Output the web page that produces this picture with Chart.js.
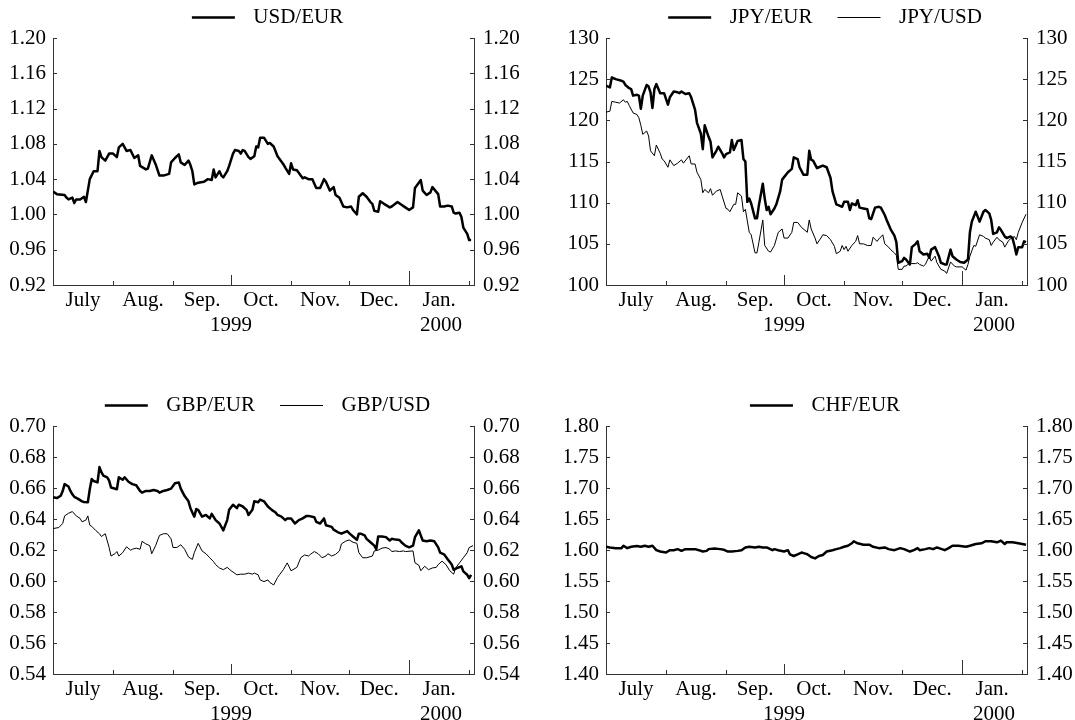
<!DOCTYPE html>
<html>
<head>
<meta charset="utf-8">
<script src="https://cdn.jsdelivr.net/npm/chart.js@4.4.0/dist/chart.umd.min.js"></script>
<style>
  html, body { margin: 0; padding: 0; background: #fff; overflow: hidden; }
  #wrap { position: relative; width: 1075px; height: 720px; overflow: hidden; }
  canvas { position: absolute; }
</style>
</head>
<body>
<div id="wrap">
  <canvas id="c1" width="537" height="345" style="left:-6px;top:-8px"></canvas>
  <canvas id="c2" width="510" height="345" style="left:565px;top:-8px"></canvas>
  <canvas id="c3" width="537" height="346" style="left:-6px;top:380px"></canvas>
  <canvas id="c4" width="510" height="346" style="left:565px;top:380px"></canvas>
</div>
<script>
/* ========= DATA (x = days since 1 July 1999) ========= */
const monthStarts = [0, 31, 62, 92, 123, 153, 184, 215];
const monthMid    = [15.5, 46.5, 77, 107.5, 138, 168.5, 199.5];
const monthLabels = ["July", "Aug.", "Sep.", "Oct.", "Nov.", "Dec.", "Jan."];
const yearPos     = [92, 200.5];
const yearLabels  = ["1999", "2000"];

const usdTicks = [0.92, 0.96, 1.00, 1.04, 1.08, 1.12, 1.16, 1.20];
const jpyTicks = [100, 105, 110, 115, 120, 125, 130];
const gbpTicks = [0.54, 0.56, 0.58, 0.60, 0.62, 0.64, 0.66, 0.68, 0.70];
const chfTicks = [1.40, 1.45, 1.50, 1.55, 1.60, 1.65, 1.70, 1.75, 1.80];

const usdEur = [[0,1.026],[2,1.023],[6,1.022],[7,1.019],[8,1.017],[10,1.019],[11,1.013],[12,1.017],[14,1.017],[16,1.020],[17,1.014],[19,1.040],[21,1.049],[23,1.049],[24,1.072],[25,1.065],[27,1.061],[29,1.069],[31,1.069],[33,1.065],[34,1.076],[36,1.080],[38,1.072],[40,1.073],[42,1.064],[44,1.067],[45,1.055],[48,1.051],[49,1.052],[51,1.067],[53,1.057],[55,1.044],[57,1.044],[60,1.046],[61,1.059],[63,1.064],[65,1.068],[66,1.059],[68,1.056],[70,1.061],[71,1.056],[72,1.049],[73,1.034],[75,1.036],[78,1.037],[80,1.040],[82,1.039],[83,1.051],[84,1.042],[86,1.049],[87,1.044],[88,1.042],[90,1.049],[91,1.055],[93,1.069],[94,1.073],[96,1.072],[97,1.069],[98,1.073],[99,1.072],[101,1.065],[102,1.063],[104,1.066],[105,1.077],[106,1.076],[107,1.087],[109,1.087],[111,1.080],[112,1.081],[114,1.077],[116,1.066],[119,1.057],[120,1.053],[122,1.046],[123,1.058],[124,1.051],[126,1.050],[129,1.041],[130,1.042],[132,1.040],[134,1.040],[136,1.030],[138,1.030],[140,1.040],[141,1.037],[143,1.027],[145,1.031],[146,1.022],[148,1.019],[150,1.009],[152,1.008],[154,1.009],[155,1.005],[157,1.000],[158,1.020],[160,1.024],[162,1.020],[164,1.014],[165,1.012],[166,1.004],[168,1.003],[169,1.015],[171,1.012],[174,1.008],[175,1.009],[178,1.014],[180,1.011],[182,1.008],[184,1.005],[186,1.008],[187,1.030],[189,1.036],[190,1.039],[191,1.027],[193,1.022],[195,1.025],[196,1.031],[199,1.023],[200,1.009],[202,1.009],[204,1.010],[206,1.009],[207,1.002],[208,1.001],[210,1.002],[211,0.997],[212,0.985],[214,0.978],[215,0.971],[216,0.971]];

const jpyEur = [[0,124.2],[2,124.0],[3,125.2],[5,125.0],[8,124.8],[9,124.7],[10,124.3],[12,123.9],[13,123.8],[14,123.0],[16,123.1],[17,123.0],[18,121.4],[19,123.0],[21,124.3],[22,124.1],[23,123.4],[24,121.5],[25,123.8],[26,124.4],[28,123.3],[30,123.3],[32,121.9],[33,122.8],[35,123.5],[37,123.4],[38,123.3],[39,123.5],[41,123.2],[43,123.3],[44,122.8],[46,121.3],[47,119.7],[49,118.4],[50,116.5],[51,119.4],[53,118.0],[54,117.4],[55,115.5],[57,116.3],[58,116.8],[60,116.0],[61,115.5],[62,115.9],[64,116.1],[65,117.6],[66,116.4],[68,117.5],[70,117.6],[71,115.3],[72,115.0],[73,110.1],[74,110.5],[75,109.9],[77,108.1],[78,108.1],[79,109.7],[81,112.3],[82,110.5],[83,109.1],[84,109.5],[85,108.6],[87,109.3],[88,109.8],[90,111.4],[91,112.8],[92,113.1],[94,113.7],[96,114.1],[97,115.5],[99,115.3],[100,114.3],[102,113.4],[104,113.4],[105,116.3],[106,115.2],[107,115.1],[109,114.2],[110,114.3],[112,114.5],[114,114.3],[116,113.0],[117,111.4],[119,109.8],[120,109.7],[122,109.5],[123,110.1],[125,110.1],[126,109.1],[127,109.9],[129,109.7],[130,110.3],[131,109.4],[133,109.3],[135,109.2],[136,108.1],[137,108.0],[139,109.4],[141,109.5],[142,109.4],[144,108.5],[145,107.9],[147,106.8],[149,106.0],[150,105.2],[151,102.7],[153,102.9],[154,103.3],[155,103.1],[157,102.5],[158,104.6],[160,105.0],[161,105.3],[162,104.1],[164,103.7],[166,103.8],[167,103.3],[168,104.3],[170,104.6],[172,103.5],[173,102.7],[175,102.5],[176,102.5],[178,104.3],[179,103.5],[181,103.1],[183,102.8],[185,102.7],[187,103.1],[188,106.4],[189,107.7],[191,108.9],[192,108.3],[193,107.7],[195,108.9],[196,109.1],[198,108.7],[199,107.9],[200,106.2],[202,106.4],[203,107.0],[204,106.7],[206,105.9],[207,105.7],[209,105.9],[210,105.7],[211,104.8],[212,103.7],[213,104.6],[215,104.6],[216,105.3],[217,105.2]];

const jpyUsd = [[0,121.0],[2,121.1],[3,122.3],[5,122.2],[7,122.1],[9,122.5],[10,122.2],[11,122.3],[12,121.8],[14,120.9],[16,120.7],[17,120.3],[18,119.4],[19,118.3],[21,118.7],[22,118.1],[23,116.3],[25,115.7],[26,117.0],[28,116.0],[29,115.3],[30,115.1],[32,114.3],[33,115.2],[35,114.5],[37,114.8],[39,115.2],[40,114.8],[43,115.7],[44,114.7],[46,114.7],[47,113.7],[49,112.8],[50,111.2],[51,111.6],[53,111.2],[54,111.7],[55,110.9],[57,111.4],[59,111.6],[60,110.8],[62,109.3],[63,109.2],[64,108.9],[66,109.8],[67,109.8],[68,111.2],[70,110.8],[71,108.9],[72,109.2],[74,106.4],[75,106.1],[77,103.9],[78,103.9],[79,105.2],[81,107.9],[82,104.8],[84,104.1],[85,104.0],[87,104.8],[89,106.4],[91,106.8],[92,105.7],[94,105.7],[96,106.4],[97,107.6],[99,107.6],[101,107.0],[104,106.4],[105,107.9],[106,106.8],[108,105.7],[109,105.0],[111,105.7],[112,106.1],[114,106.0],[116,105.5],[118,104.7],[119,103.8],[121,104.1],[122,104.8],[123,104.3],[124,104.7],[125,104.1],[127,104.8],[129,105.3],[130,106.0],[131,105.0],[133,105.0],[135,104.8],[137,104.8],[138,105.8],[140,105.3],[141,105.6],[143,106.1],[144,105.0],[146,104.6],[147,104.3],[149,103.9],[150,103.6],[151,101.9],[153,101.9],[154,102.3],[155,102.3],[157,102.7],[158,102.6],[160,102.6],[161,102.7],[162,102.5],[164,102.3],[165,102.5],[167,103.5],[168,102.9],[170,103.5],[171,102.7],[173,101.9],[175,101.7],[176,101.4],[178,102.8],[180,102.3],[181,102.2],[184,102.2],[186,101.8],[187,102.5],[188,103.5],[190,104.8],[191,104.7],[193,106.1],[195,105.9],[196,105.7],[198,105.5],[199,104.8],[200,105.2],[202,105.8],[203,105.5],[205,105.2],[206,104.6],[208,105.4],[209,105.6],[211,105.9],[212,105.5],[213,106.4],[215,107.6],[217,108.6]];

const gbpEur = [[0,0.6540],[2,0.6535],[4,0.6550],[5,0.6580],[6,0.6625],[8,0.6610],[9,0.6581],[10,0.6559],[11,0.6543],[13,0.6530],[15,0.6514],[16,0.6510],[18,0.6508],[19,0.6592],[20,0.6658],[21,0.6645],[23,0.6636],[24,0.6735],[25,0.6702],[26,0.6680],[28,0.6669],[29,0.6647],[30,0.6603],[33,0.6592],[34,0.6669],[36,0.6653],[37,0.6669],[39,0.6640],[41,0.6625],[43,0.6618],[45,0.6581],[46,0.6570],[48,0.6581],[50,0.6581],[52,0.6587],[54,0.6581],[55,0.6570],[57,0.6581],[59,0.6587],[61,0.6596],[63,0.6631],[65,0.6636],[66,0.6596],[68,0.6548],[70,0.6514],[71,0.6470],[73,0.6415],[74,0.6464],[75,0.6459],[77,0.6415],[79,0.6426],[81,0.6404],[82,0.6433],[84,0.6393],[86,0.6371],[88,0.6327],[90,0.6393],[91,0.6459],[93,0.6492],[95,0.6470],[96,0.6492],[98,0.6481],[100,0.6459],[101,0.6426],[103,0.6459],[104,0.6514],[106,0.6508],[107,0.6525],[109,0.6514],[111,0.6481],[113,0.6459],[115,0.6442],[116,0.6426],[118,0.6415],[120,0.6393],[121,0.6404],[123,0.6404],[125,0.6371],[127,0.6393],[129,0.6404],[131,0.6420],[132,0.6420],[135,0.6411],[136,0.6382],[138,0.6371],[140,0.6404],[141,0.6360],[144,0.6349],[145,0.6331],[147,0.6316],[149,0.6305],[152,0.6322],[153,0.6309],[155,0.6287],[157,0.6265],[158,0.6305],[159,0.6305],[161,0.6294],[162,0.6272],[164,0.6250],[166,0.6228],[167,0.6205],[168,0.6287],[170,0.6287],[172,0.6283],[174,0.6261],[175,0.6272],[177,0.6267],[179,0.6265],[180,0.6250],[182,0.6228],[184,0.6217],[186,0.6228],[187,0.6283],[189,0.6327],[190,0.6294],[191,0.6261],[193,0.6256],[195,0.6261],[197,0.6256],[199,0.6217],[200,0.6183],[202,0.6172],[204,0.6139],[206,0.6106],[207,0.6073],[209,0.6084],[211,0.6095],[212,0.6062],[214,0.6040],[215,0.6018],[216,0.6040]];

const gbpUsd = [[0,0.6338],[3,0.6345],[5,0.6371],[6,0.6420],[8,0.6437],[10,0.6448],[12,0.6420],[14,0.6404],[15,0.6382],[17,0.6393],[18,0.6420],[19,0.6360],[20,0.6353],[22,0.6327],[24,0.6305],[25,0.6287],[27,0.6305],[29,0.6216],[30,0.6161],[32,0.6176],[33,0.6190],[34,0.6161],[36,0.6183],[38,0.6221],[40,0.6199],[41,0.6205],[43,0.6212],[45,0.6205],[46,0.6256],[48,0.6239],[50,0.6228],[51,0.6176],[53,0.6228],[55,0.6294],[57,0.6305],[59,0.6305],[61,0.6272],[62,0.6216],[64,0.6216],[66,0.6234],[68,0.6205],[70,0.6155],[72,0.6139],[73,0.6183],[75,0.6243],[77,0.6194],[79,0.6176],[81,0.6150],[83,0.6124],[84,0.6106],[86,0.6084],[88,0.6073],[90,0.6088],[92,0.6066],[93,0.6058],[95,0.6040],[97,0.6044],[99,0.6044],[101,0.6051],[103,0.6044],[104,0.6051],[106,0.6040],[107,0.6007],[109,0.5996],[111,0.6007],[112,0.5991],[114,0.5974],[116,0.6022],[117,0.6040],[119,0.6073],[121,0.6117],[123,0.6066],[124,0.6073],[126,0.6088],[128,0.6150],[130,0.6168],[132,0.6161],[133,0.6172],[135,0.6190],[137,0.6176],[139,0.6150],[141,0.6161],[142,0.6176],[144,0.6161],[146,0.6172],[148,0.6194],[149,0.6239],[151,0.6256],[153,0.6265],[155,0.6250],[157,0.6243],[158,0.6183],[160,0.6150],[162,0.6150],[165,0.6161],[166,0.6194],[168,0.6199],[170,0.6212],[172,0.6216],[174,0.6205],[175,0.6190],[177,0.6194],[179,0.6190],[181,0.6194],[182,0.6190],[186,0.6194],[187,0.6117],[189,0.6102],[190,0.6066],[192,0.6095],[194,0.6073],[196,0.6084],[198,0.6088],[199,0.6106],[201,0.6128],[203,0.6106],[205,0.6066],[207,0.6044],[208,0.6084],[210,0.6117],[212,0.6150],[214,0.6183],[215,0.6216],[217,0.6228]];

const chfEur = [[0,1.6052],[2,1.6041],[5,1.6030],[8,1.6030],[9,1.6069],[11,1.6030],[13,1.6052],[16,1.6063],[18,1.6052],[20,1.6069],[22,1.6052],[24,1.6069],[26,1.5997],[28,1.5975],[31,1.5959],[33,1.5997],[35,1.5997],[37,1.6014],[39,1.5986],[41,1.6014],[43,1.6014],[46,1.6014],[48,1.5997],[50,1.5975],[52,1.5986],[53,1.6014],[56,1.6025],[59,1.6014],[61,1.6003],[63,1.5975],[65,1.5975],[68,1.5986],[70,1.5997],[72,1.6041],[74,1.6052],[77,1.6041],[79,1.6052],[81,1.6041],[83,1.6041],[86,1.5997],[87,1.6014],[89,1.5997],[92,1.5975],[94,1.5997],[95,1.5931],[97,1.5903],[99,1.5931],[101,1.5959],[103,1.5942],[104,1.5931],[106,1.5887],[108,1.5865],[110,1.5903],[112,1.5920],[114,1.5975],[117,1.5997],[119,1.6014],[121,1.6030],[123,1.6052],[125,1.6069],[127,1.6108],[128,1.6141],[130,1.6108],[133,1.6085],[136,1.6085],[138,1.6052],[141,1.6030],[144,1.6041],[146,1.6014],[149,1.5997],[152,1.6030],[154,1.6014],[157,1.5975],[159,1.5997],[161,1.6030],[162,1.5997],[165,1.6014],[167,1.6030],[169,1.6014],[171,1.6041],[172,1.6030],[175,1.5997],[177,1.6030],[179,1.6069],[182,1.6069],[186,1.6052],[188,1.6069],[191,1.6097],[194,1.6108],[196,1.6141],[199,1.6141],[202,1.6124],[204,1.6152],[206,1.6097],[207,1.6124],[210,1.6124],[213,1.6108],[215,1.6097],[217,1.6085]];

/* ========= STYLE ========= */
const axisColor = "#333";
const xMax = 217.5;
Chart.defaults.font.family = '"Liberation Serif", "Times New Roman", serif';
Chart.defaults.font.size = 21;
Chart.defaults.color = "#000";

// legend key: a 43px line with some air before it and after it
const keyWidth = 61;
function legendKey(width) {
  const c = document.createElement("canvas");
  c.width = keyWidth;
  c.height = 3;
  const g = c.getContext("2d");
  g.fillStyle = "#000";
  if (width < 2) g.fillRect(10, 1, 43, 1);
  else g.fillRect(10, 0.25, 43, 2.5);
  return c;
}

// ticks point into the plot, as in the printed chart
const innerTicks = {
  id: "innerTicks",
  afterDraw(chart) {
    const { ctx, chartArea: a, scales } = chart;
    ctx.save();
    ctx.strokeStyle = axisColor;
    ctx.lineWidth = 1;
    ctx.beginPath();
    ["y", "y2"].forEach(id => {
      const s = scales[id];
      const left = s.position === "left";
      const px = left ? a.left : a.right;
      s.ticks.forEach(t => {
        const py = Math.round(s.getPixelForValue(t.value)) + 0.5;
        ctx.moveTo(px, py);
        ctx.lineTo(left ? px + 4 : px - 4, py);
      });
    });
    const x = scales.x;
    monthStarts.forEach(d => {
      let len = 4;
      if (d === 0 || d === yearPos[0]) len = 10;
      if (d === monthStarts[6]) len = 14;
      const px = Math.round(x.getPixelForValue(d)) + 0.5;
      ctx.moveTo(px, a.bottom);
      ctx.lineTo(px, a.bottom - len);
    });
    ctx.stroke();
    ctx.restore();
  }
};

function series(label, pts, width) {
  return {
    label,
    data: pts.map(p => ({ x: p[0], y: p[1] })),
    borderColor: "#000",
    borderWidth: width,
    borderJoinStyle: "round",
    pointRadius: 0,
    pointStyle: legendKey(width),
    tension: 0
  };
}

function yAxis(pos, ticks, dec, width) {
  return {
    type: "linear",
    position: pos,
    min: ticks[0],
    max: ticks[ticks.length - 1],
    afterBuildTicks: s => { s.ticks = ticks.map(v => ({ value: v })); },
    afterFit: s => { s.width = width; },
    grid: { display: false, drawTicks: false },
    border: { display: true, color: axisColor, width: 1 },
    ticks: { padding: pos === "left" ? 7 : 9, callback: v => v.toFixed(dec) }
  };
}

function makePanel(id, datasets, ticks, dec, leftW, rightW) {
  new Chart(document.getElementById(id), {
    type: "line",
    data: { datasets },
    plugins: [innerTicks],
    options: {
      responsive: false,
      animation: false,
      layout: { padding: 0 },
      plugins: {
        tooltip: { enabled: false },
        legend: {
          labels: {
            usePointStyle: true,
            pointStyleWidth: keyWidth,
            padding: 15,
            color: "#000"
          }
        }
      },
      scales: {
        x: {
          type: "linear",
          min: 0, max: xMax,
          weight: 0,
          afterBuildTicks: s => { s.ticks = monthMid.map(v => ({ value: v })); },
          afterFit: s => { s.height = 26; },
          grid: { display: false, drawTicks: false },
          border: { display: true, color: axisColor, width: 1 },
          ticks: { autoSkip: false, maxRotation: 0, padding: 3, callback: (v, i) => monthLabels[i] }
        },
        x2: {
          type: "linear",
          position: "bottom",
          min: 0, max: xMax,
          weight: 1,
          afterBuildTicks: s => { s.ticks = yearPos.map(v => ({ value: v })); },
          afterFit: s => { s.height = 26; },
          grid: { display: false, drawTicks: false },
          border: { display: false },
          ticks: { autoSkip: false, maxRotation: 0, padding: 2, callback: (v, i) => yearLabels[i] }
        },
        y: yAxis("left", ticks, dec, leftW),
        y2: yAxis("right", ticks, dec, rightW)
      }
    }
  });
}

// left panels sit 6px left in the page, so their y axes get 6px more
makePanel("c1", [series("USD/EUR", usdEur, 2.5)], usdTicks, 2, 59, 57);
makePanel("c2", [series("JPY/EUR", jpyEur, 2.5), series("JPY/USD", jpyUsd, 1)], jpyTicks, 0, 41, 48);
makePanel("c3", [series("GBP/EUR", gbpEur, 2.5), series("GBP/USD", gbpUsd, 1)], gbpTicks, 2, 59, 57);
makePanel("c4", [series("CHF/EUR", chfEur, 2.5)], chfTicks, 2, 41, 48);
</script>
</body>
</html>
